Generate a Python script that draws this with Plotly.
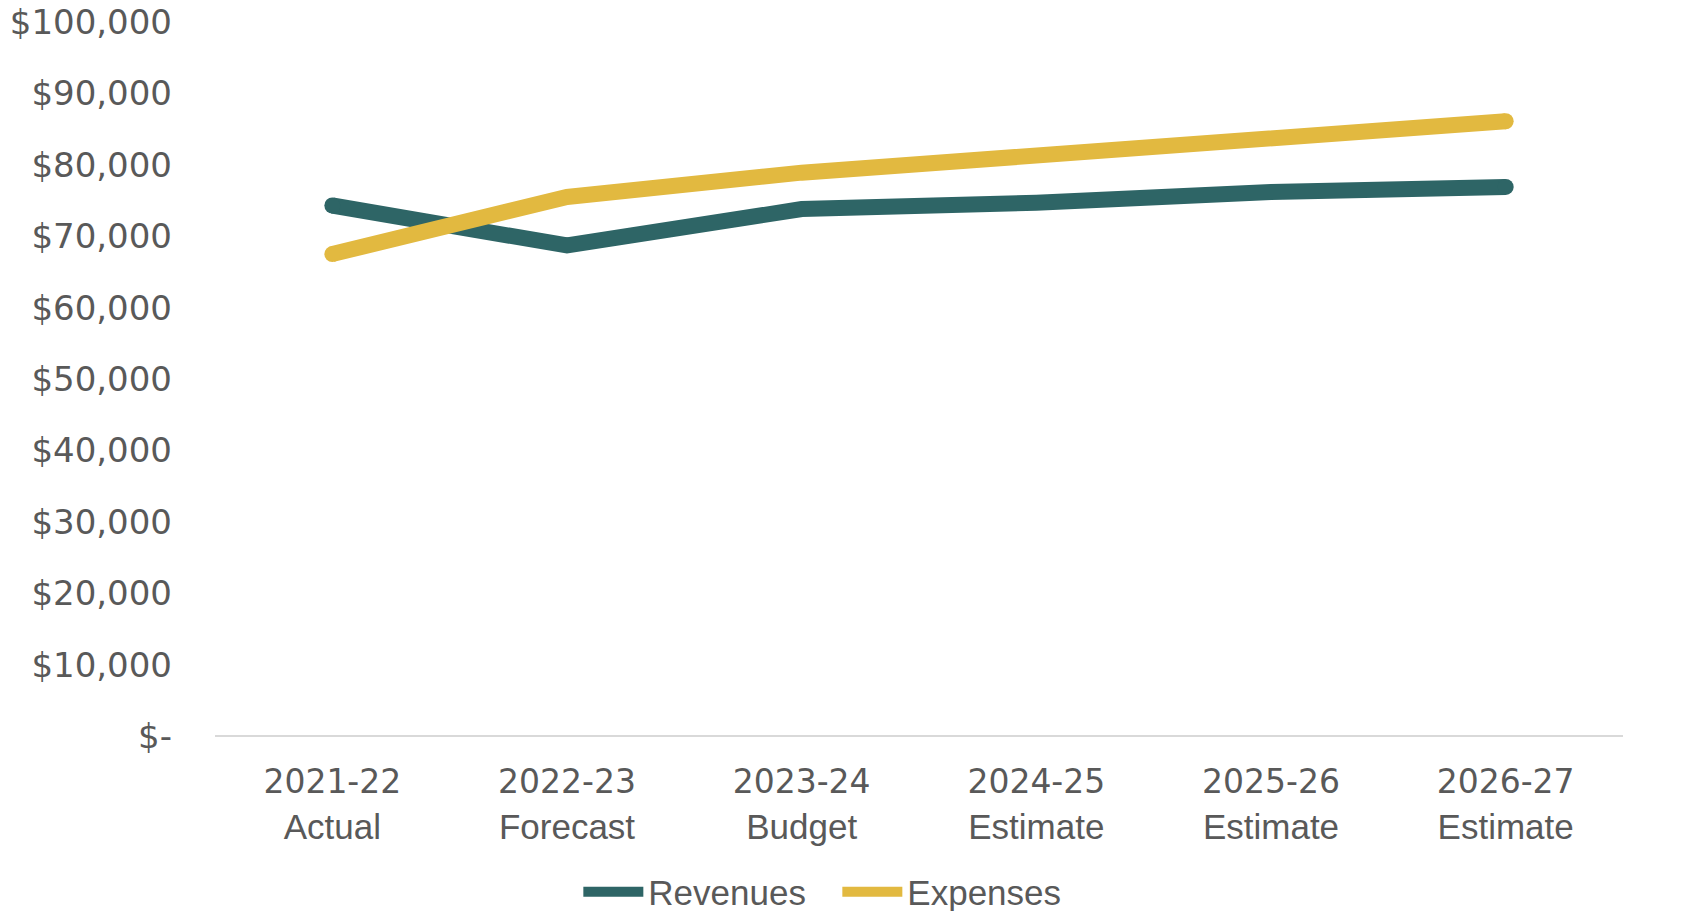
import plotly.graph_objects as go

years = ["2021-22", "2022-23", "2023-24", "2024-25", "2025-26", "2026-27"]
stages = ["Actual", "Forecast", "Budget", "Estimate", "Estimate", "Estimate"]
revenues = [74300, 68700, 73800, 74700, 76200, 76900]
expenses = [67500, 75500, 78900, 81300, 83700, 86100]
y_tickvals = [0, 10000, 20000, 30000, 40000, 50000, 60000, 70000, 80000, 90000, 100000]
y_ticktext = ["$-", "$10,000", "$20,000", "$30,000", "$40,000", "$50,000",
              "$60,000", "$70,000", "$80,000", "$90,000", "$100,000"]

categories = [f"{y}<br>{s}" for y, s in zip(years, stages)]
x_ticktext = [f"<span style='font-family:DejaVu Sans;font-size:33px'>{y}</span><br>{s}"
              for y, s in zip(years, stages)]

REV_COLOR = "#2E6566"
EXP_COLOR = "#E2B940"
TEXT = "#595959"
FONT = "Liberation Sans"
LW = 16

fig = go.Figure()
for name, vals, col in [("Revenues", revenues, REV_COLOR), ("Expenses", expenses, EXP_COLOR)]:
    fig.add_trace(go.Scatter(x=categories, y=vals, name=name, mode="lines",
                             line=dict(color=col, width=LW)))
    # round end caps
    fig.add_trace(go.Scatter(x=[categories[0], categories[-1]], y=[vals[0], vals[-1]],
                             mode="markers", showlegend=False, hoverinfo="skip",
                             marker=dict(color=col, size=LW, line=dict(width=0))))

fig.update_layout(
    width=1693, height=911,
    margin=dict(l=215, r=70, t=22, b=175, autoexpand=False),
    paper_bgcolor="white", plot_bgcolor="white",
    font=dict(family=FONT, size=35, color=TEXT),
    showlegend=True,
    legend=dict(orientation="h", x=0.442, xanchor="center",
                yref="container", y=0.0209, yanchor="middle",
                font=dict(size=35, color=TEXT, family=FONT), itemwidth=60,
                entrywidth=184, tracegroupgap=0),
    xaxis=dict(type="category", range=[-0.5, 5.5], showgrid=False, zeroline=False,
               showline=False, ticks="", ticklabelstandoff=21, automargin=False,
               tickvals=categories, ticktext=x_ticktext,
               tickfont=dict(size=35, color=TEXT, family=FONT)),
    yaxis=dict(range=[0, 100000], tickvals=y_tickvals, ticktext=y_ticktext,
               showgrid=False, zeroline=True, zerolinecolor="#D9D9D9", zerolinewidth=2,
               showline=False, ticks="", ticklabelstandoff=42, automargin=False,
               ticklabeloverflow="allow",
               tickfont=dict(size=34, color=TEXT, family="DejaVu Sans")),
)

fig.write_html("out.html", config={"displayModeBar": False},
               post_script="document.body.style.margin='0';")
